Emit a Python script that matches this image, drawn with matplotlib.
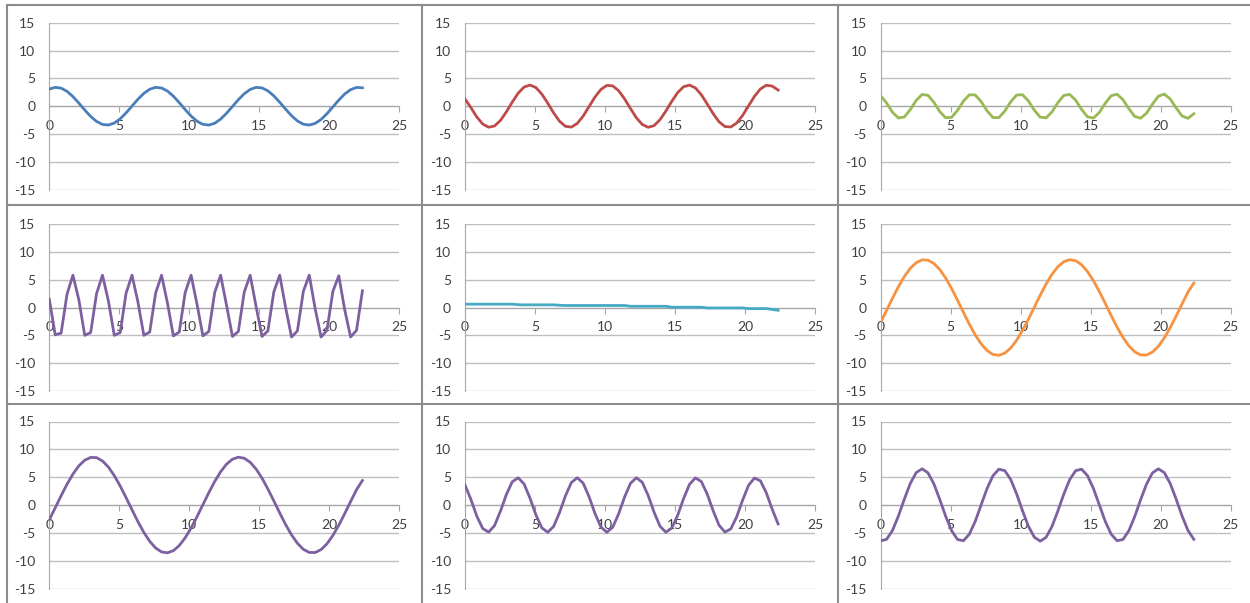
import matplotlib
matplotlib.use("Agg")
import matplotlib.pyplot as plt
from matplotlib.lines import Line2D

plt.rcParams['font.family'] = ['Lato', 'DejaVu Sans']
plt.rcParams['axes.unicode_minus'] = False

# sample positions (same for every chart)
x_step = 0.422
x = [i * x_step for i in range(54)]

blue = [3.08, 3.39, 3.25, 2.67, 1.73, 0.56, -0.68, -1.84, -2.74, -3.28,
        -3.38, -3.03, -2.27, -1.20, 0.02, 1.25, 2.30, 3.05, 3.39, 3.27,
        2.72, 1.80, 0.64, -0.61, -1.77, -2.70, -3.26, -3.39, -3.06, -2.32,
        -1.27, -0.05, 1.17, 2.24, 3.01, 3.38, 3.29, 2.76, 1.86, 0.71,
        -0.53, -1.71, -2.65, -3.24, -3.39, -3.09, -2.38, -1.35, -0.13, 1.10,
        2.19, 2.97, 3.37, 3.31]

red = [1.30, -0.26, -1.94, -3.20, -3.78, -3.55, -2.56, -1.02, 0.74, 2.34,
       3.44, 3.80, 3.35, 2.18, 0.55, -1.20, -2.70, -3.61, -3.76, -3.10,
       -1.77, -0.07, 1.65, 3.01, 3.73, 3.65, 2.79, 1.33, -0.41, -2.07,
       -3.28, -3.79, -3.49, -2.44, -0.87, 0.88, 2.45, 3.50, 3.79, 3.28,
       2.06, 0.40, -1.34, -2.80, -3.66, -3.73, -3.01, -1.64, 0.08, 1.78,
       3.10, 3.76, 3.61, 2.90]

green = [1.89, 0.56, -1.09, -2.12, -1.93, -0.63, 1.03, 2.10, 1.96, 0.70,
         -0.97, -2.08, -1.99, -0.76, 0.91, 2.05, 2.02, 0.83, -0.84, -2.03,
         -2.05, -0.89, 0.78, 2.00, 2.07, 0.95, -0.71, -1.97, -2.09, -1.01,
         0.65, 1.94, 2.11, 1.08, -0.58, -1.90, -2.13, -1.13, 0.51, 1.87,
         2.15, 1.19, -0.45, -1.83, -2.16, -1.25, 0.38, 1.79, 2.17, 1.31,
         -0.31, -1.75, -2.18, -1.36]

purple_fast = [1.5, -4.9, -4.6, 2.4, 5.8, 1.4, -5.0, -4.5, 2.5, 5.8,
               1.2, -5.0, -4.5, 2.6, 5.8, 1.0, -5.0, -4.4, 2.6, 5.8,
               0.8, -5.1, -4.4, 2.7, 5.8, 0.6, -5.1, -4.3, 2.7, 5.8,
               0.4, -5.2, -4.3, 2.8, 5.8, 0.2, -5.2, -4.2, 2.8, 5.8,
               0.0, -5.3, -4.2, 2.9, 5.8, -0.2, -5.3, -4.1, 2.9, 5.7,
               -0.4, -5.3, -4.1, 3.0]

teal = [0.60, 0.60, 0.60, 0.60, 0.60, 0.60, 0.60, 0.60, 0.60, 0.50,
        0.48, 0.48, 0.48, 0.48, 0.48, 0.48, 0.40, 0.36, 0.36, 0.36,
        0.36, 0.36, 0.36, 0.36, 0.36, 0.36, 0.36, 0.36, 0.22, 0.22,
        0.22, 0.22, 0.22, 0.22, 0.22, 0.05, 0.05, 0.05, 0.05, 0.05,
        0.05, -0.08, -0.08, -0.08, -0.08, -0.08, -0.08, -0.08, -0.20, -0.20,
        -0.20, -0.20, -0.35, -0.50]

big_wave = [-2.65, -0.51, 1.67, 3.73, 5.56, 7.03, 8.05, 8.55, 8.51, 7.91,
            6.82, 5.28, 3.41, 1.31, -0.86, -2.99, -4.92, -6.53, -7.73, -8.43,
            -8.59, -8.20, -7.28, -5.89, -4.13, -2.11, 0.06, 2.21, 4.23, 5.97,
            7.34, 8.23, 8.59, 8.40, 7.68, 6.46, 4.83, 2.88, 0.75, -1.42,
            -3.51, -5.37, -6.88, -7.96, -8.52, -8.54, -8.01, -6.97, -5.47, -3.63,
            -1.56, 0.62, 2.75, 4.40]

purple_mid = [3.60, 0.99, -2.00, -4.23, -4.88, -3.69, -1.11, 1.88, 4.17, 4.89,
              3.77, 1.23, -1.76, -4.10, -4.90, -3.85, -1.36, 1.64, 4.03, 4.90,
              3.93, 1.48, -1.52, -3.95, -4.90, -4.00, -1.60, 1.40, 3.88, 4.90,
              4.08, 1.72, -1.28, -3.80, -4.89, -4.15, -1.84, 1.15, 3.71, 4.88,
              4.21, 1.96, -1.03, -3.63, -4.87, -4.28, -2.08, 0.90, 3.54, 4.85,
              4.34, 2.19, -0.77, -3.40]

purple_slow = [-6.43, -6.17, -4.57, -1.97, 1.05, 3.85, 5.81, 6.50, 5.78, 3.80,
               0.99, -2.03, -4.61, -6.19, -6.42, -5.25, -2.94, 0.01, 2.96, 5.26,
               6.42, 6.18, 4.60, 2.02, -1.01, -3.81, -5.78, -6.50, -5.80, -3.84,
               -1.04, 1.99, 4.58, 6.17, 6.43, 5.28, 2.98, 0.04, -2.92, -5.23,
               -6.41, -6.20, -4.63, -2.06, 0.96, 3.77, 5.77, 6.50, 5.82, 3.87,
               1.08, -1.94, -4.55, -6.16]

series = [blue, red, green,
          purple_fast, teal, big_wave,
          big_wave, purple_mid, purple_slow]
colors = ['#4a7ebb', '#be4b48', '#98b954',
          '#7d60a0', '#46aac5', '#f69240',
          '#7d60a0', '#7d60a0', '#7d60a0']

W, H = 1250, 603
fig = plt.figure(figsize=(W / 100, H / 100), dpi=100)

# plot area pixel positions: left edge per column, top edge per row
col_left = [49.3, 465.0, 880.7]
row_top = [22.7, 224.0, 421.5]
pw, ph = 350.0, 167.0

grid_c = '#bfbfbf'
axis_c = '#a6a6a6'
text_c = '#404040'

for k, (y, c) in enumerate(zip(series, colors)):
    r, col = divmod(k, 3)
    l, t = col_left[col], row_top[r]
    ax = fig.add_axes([l / W, 1 - (t + ph) / H, pw / W, ph / H])
    ax.plot(x, y, color=c, lw=2.0, solid_joinstyle='round', zorder=3)
    ax.set_xlim(0, 25)
    ax.set_ylim(-15, 15)
    ax.set_xticks(range(0, 26, 5))
    ax.set_yticks(range(-15, 16, 5))
    ax.grid(axis='y', color=grid_c, lw=1.0)
    ax.set_axisbelow(True)
    for s in ['top', 'right']:
        ax.spines[s].set_visible(False)
    ax.spines['left'].set_color(axis_c)
    ax.spines['bottom'].set_color(axis_c)
    ax.spines['bottom'].set_position(('data', 0))
    ax.tick_params(axis='x', length=4, direction='out', color=axis_c,
                   pad=6, labelsize=10, labelcolor=text_c)
    ax.tick_params(axis='y', length=0, pad=10, labelsize=10,
                   labelcolor=text_c)

# chart borders
border_c = '#8c8c8c'
for xp in [7, 422, 838]:
    fig.add_artist(Line2D([xp / W, xp / W], [0, 1 - 5 / H],
                          transform=fig.transFigure, color=border_c, lw=1.5))
for yp in [5, 205, 404]:
    fig.add_artist(Line2D([7 / W, 1], [1 - yp / H, 1 - yp / H],
                          transform=fig.transFigure, color=border_c, lw=1.5))

fig.savefig('out.png', dpi=100, facecolor='white')
